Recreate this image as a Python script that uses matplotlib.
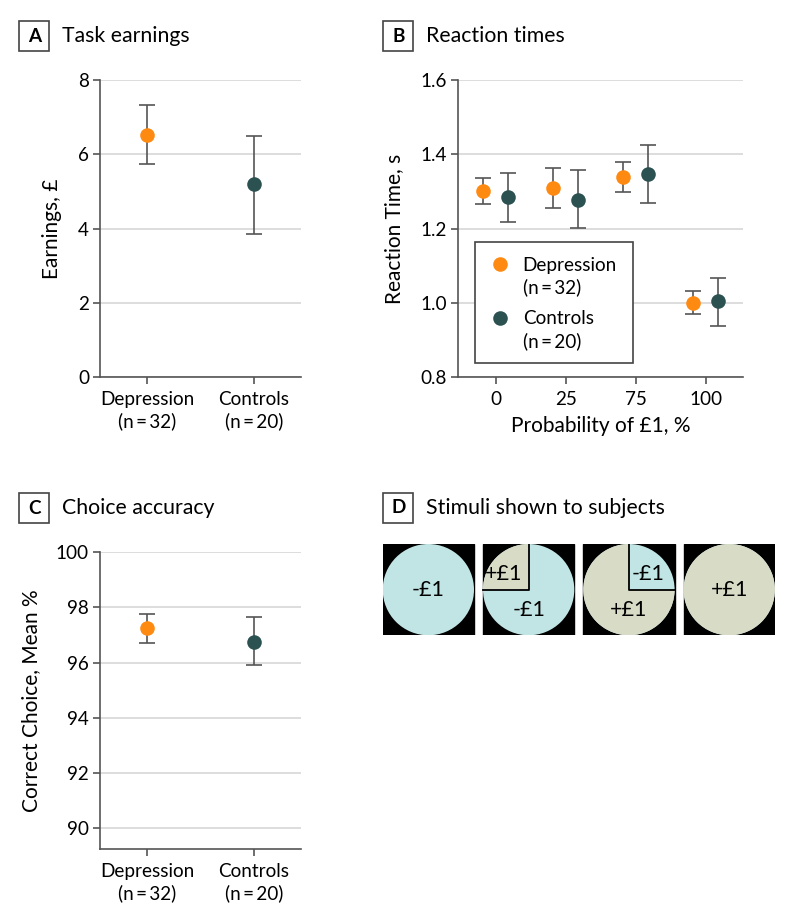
import matplotlib
matplotlib.use("Agg")
import matplotlib.pyplot as plt
from matplotlib.patches import Rectangle, Wedge, Circle
import numpy as np

plt.rcParams['font.family'] = ['Lato', 'DejaVu Sans']

# ---------------- data ----------------
groups = ["Depression\n(n\u2009=\u200932)", "Controls\n(n\u2009=\u200920)"]

earn_mean = [6.52, 5.19]
earn_low = [5.73, 3.85]
earn_high = [7.33, 6.49]

prob_labels = ["0", "25", "75", "100"]
rt_dep_mean = [1.302, 1.310, 1.338, 1.000]
rt_dep_low = [1.267, 1.255, 1.298, 0.970]
rt_dep_high = [1.337, 1.362, 1.379, 1.031]
rt_ctl_mean = [1.284, 1.278, 1.346, 1.003]
rt_ctl_low = [1.217, 1.202, 1.268, 0.938]
rt_ctl_high = [1.350, 1.359, 1.425, 1.067]

acc_mean = [97.26, 96.75]
acc_low = [96.72, 95.90]
acc_high = [97.77, 97.65]

stim_gain_frac = [0.0, 0.25, 0.75, 1.0]
stim_labels = [["-£1"], ["+£1", "-£1"], ["-£1", "+£1"], ["+£1"]]

# ---------------- style ----------------
ORANGE = "#FF8A12"
TEAL = "#2C5151"
BLUE = "#C1E5E4"
BEIGE = "#D8DBC6"
AX = "#555555"
GRID = "#DADADA"
W, H = 794, 923
fig = plt.figure(figsize=(W / 100, H / 100), dpi=100)

TICK_FS = 13.6
LAB_FS = 15
TITLE_FS = 15.3
MS = 10.5
COLORS = [ORANGE, TEAL]


def ax_at(l, t, r, b):
    return fig.add_axes([l / W, 1 - b / H, (r - l) / W, (b - t) / H])


def style(ax):
    for s in ["top", "right"]:
        ax.spines[s].set_visible(False)
    for s in ["left", "bottom"]:
        ax.spines[s].set_color(AX)
        ax.spines[s].set_linewidth(1.2)
    ax.tick_params(colors=AX, labelcolor="black", length=5, width=1.2,
                   labelsize=TICK_FS, pad=3)
    ax.tick_params(axis="x", pad=5)
    ax.yaxis.grid(True, color=GRID, linewidth=1.3)
    ax.set_axisbelow(True)


def panel_label(letter, title, x, y):
    fig.patches.append(Rectangle((x / W, 1 - (y + 30) / H), 30 / W, 30 / H,
                                 transform=fig.transFigure, fill=False,
                                 edgecolor="#444444", linewidth=1.2))
    fig.text((x + 15) / W, 1 - (y + 15) / H, letter, ha="center", va="center",
             fontsize=13.6, fontweight="bold")
    fig.text((x + 43) / W, 1 - (y + 15) / H, title, ha="left", va="center",
             fontsize=TITLE_FS)


def errpoints(ax, x, mean, low, high, color):
    mean = np.asarray(mean, dtype=float)
    yerr = [mean - np.asarray(low), np.asarray(high) - mean]
    ax.errorbar(x, mean, yerr=yerr, fmt="none", ecolor=AX,
                elinewidth=1.2, capsize=6, capthick=1.2, zorder=2)
    ax.plot(x, mean, "o", color=color, markersize=MS, markeredgewidth=0,
            zorder=3)


# ---------------- Panel A ----------------
axA = ax_at(100, 80.3, 300.7, 376.7)
style(axA)
xg = np.arange(len(groups))
for i, c in enumerate(COLORS):
    errpoints(axA, [xg[i]], [earn_mean[i]], [earn_low[i]], [earn_high[i]], c)
axA.set_ylim(0, 8)
axA.set_yticks([0, 2, 4, 6, 8])
axA.set_xlim(-0.44, 1.44)
axA.set_xticks(xg)
axA.set_xticklabels(groups, linespacing=1.3)
axA.set_ylabel("Earnings, £", fontsize=LAB_FS)
axA.yaxis.set_label_coords((62 - 100) / 200.7, 0.5)
panel_label("A", "Task earnings", 19.3, 21)

# ---------------- Panel B ----------------
axB = ax_at(458.3, 80.3, 743.3, 376.7)
style(axB)
xp = np.arange(len(prob_labels))
off = 0.175
errpoints(axB, xp - off, rt_dep_mean, rt_dep_low, rt_dep_high, ORANGE)
errpoints(axB, xp + off, rt_ctl_mean, rt_ctl_low, rt_ctl_high, TEAL)
axB.set_ylim(0.8, 1.6)
axB.set_yticks([0.8, 1.0, 1.2, 1.4, 1.6])
axB.set_yticklabels(["0.8", "1.0", "1.2", "1.4", "1.6"])
axB.set_xlim(-0.534, 3.537)
axB.set_xticks(xp)
axB.set_xticklabels(prob_labels)
axB.set_ylabel("Reaction Time, s", fontsize=LAB_FS)
axB.yaxis.set_label_coords((404 - 458.3) / 285, 0.5)
axB.set_xlabel("Probability of £1, %", fontsize=LAB_FS, labelpad=6)

# manual legend (marker aligned with the first text line, as in the original)
lx0, lx1 = (474.7 - 458.3) / 285, (633.3 - 458.3) / 285
ly0, ly1 = (376.7 - 363) / 296.4, (376.7 - 242.3) / 296.4
axB.add_patch(Rectangle((lx0, ly0), lx1 - lx0, ly1 - ly0, transform=axB.transAxes,
                        facecolor="white", edgecolor="#444444", linewidth=1.2, zorder=4))
for k, (lab, c) in enumerate(zip(groups, COLORS)):
    yk = (376.7 - (264 + 54 * k)) / 296.4
    axB.plot([(500.3 - 458.3) / 285], [yk], "o", color=c, markersize=MS,
             markeredgewidth=0, transform=axB.transAxes, zorder=5, clip_on=False)
    axB.text((522.7 - 458.3) / 285, yk + 7.5 / 296.4, lab, transform=axB.transAxes,
             ha="left", va="top", fontsize=TICK_FS, linespacing=1.3, zorder=5)
panel_label("B", "Reaction times", 383.3, 21)

# ---------------- Panel C ----------------
axC = ax_at(100, 552, 300.7, 848.7)
style(axC)
for i, c in enumerate(COLORS):
    errpoints(axC, [xg[i]], [acc_mean[i]], [acc_low[i]], [acc_high[i]], c)
axC.set_ylim(89.26, 100)
axC.set_yticks([90, 92, 94, 96, 98, 100])
axC.set_xlim(-0.44, 1.44)
axC.set_xticks(xg)
axC.set_xticklabels(groups, linespacing=1.3)
axC.set_ylabel("Correct Choice, Mean %", fontsize=LAB_FS)
axC.yaxis.set_label_coords((41 - 100) / 200.7, 0.5)
panel_label("C", "Choice accuracy", 19.3, 493.3)

# ---------------- Panel D ----------------
axD = ax_at(382.7, 544, 774.7, 635.3)
axD.set_xlim(0, 392 / 91.3)
axD.set_ylim(0, 1)
axD.set_aspect("equal")
axD.axis("off")
step = 100.3 / 91.3
SFS = 15.5
for i, g in enumerate(stim_gain_frac):
    x0 = i * step
    cx, cy, r = x0 + 0.5, 0.5, 0.5
    axD.add_patch(Rectangle((x0, 0), 1, 1, color="black", zorder=1))
    axD.add_patch(Circle((cx, cy), r, color=BLUE, zorder=2, lw=0))
    if g >= 1.0:
        axD.add_patch(Circle((cx, cy), r, color=BEIGE, zorder=3, lw=0))
        axD.text(cx, cy, stim_labels[i][0], ha="center", va="center", fontsize=SFS, zorder=5)
    elif g <= 0.0:
        axD.text(cx, cy, stim_labels[i][0], ha="center", va="center", fontsize=SFS, zorder=5)
    elif g < 0.5:
        axD.add_patch(Wedge((cx, cy), r, 90, 90 + 360 * g, color=BEIGE, zorder=3, lw=0))
        axD.plot([cx, cx, cx - r], [cy + r, cy, cy], color="black", lw=1.3, zorder=4)
        axD.text(cx - 0.27, cy + 0.17, stim_labels[i][0], ha="center", va="center", fontsize=SFS, zorder=5)
        axD.text(cx, cy - 0.22, stim_labels[i][1], ha="center", va="center", fontsize=SFS, zorder=5)
    else:
        axD.add_patch(Wedge((cx, cy), r, 90, 90 + 360 * g, color=BEIGE, zorder=3, lw=0))
        axD.plot([cx, cx, cx + r], [cy + r, cy, cy], color="black", lw=1.3, zorder=4)
        axD.text(cx + 0.21, cy + 0.17, stim_labels[i][0], ha="center", va="center", fontsize=SFS, zorder=5)
        axD.text(cx, cy - 0.22, stim_labels[i][1], ha="center", va="center", fontsize=SFS, zorder=5)
panel_label("D", "Stimuli shown to subjects", 383.3, 492.7)

fig.savefig("out.png", dpi=100, facecolor="white")
